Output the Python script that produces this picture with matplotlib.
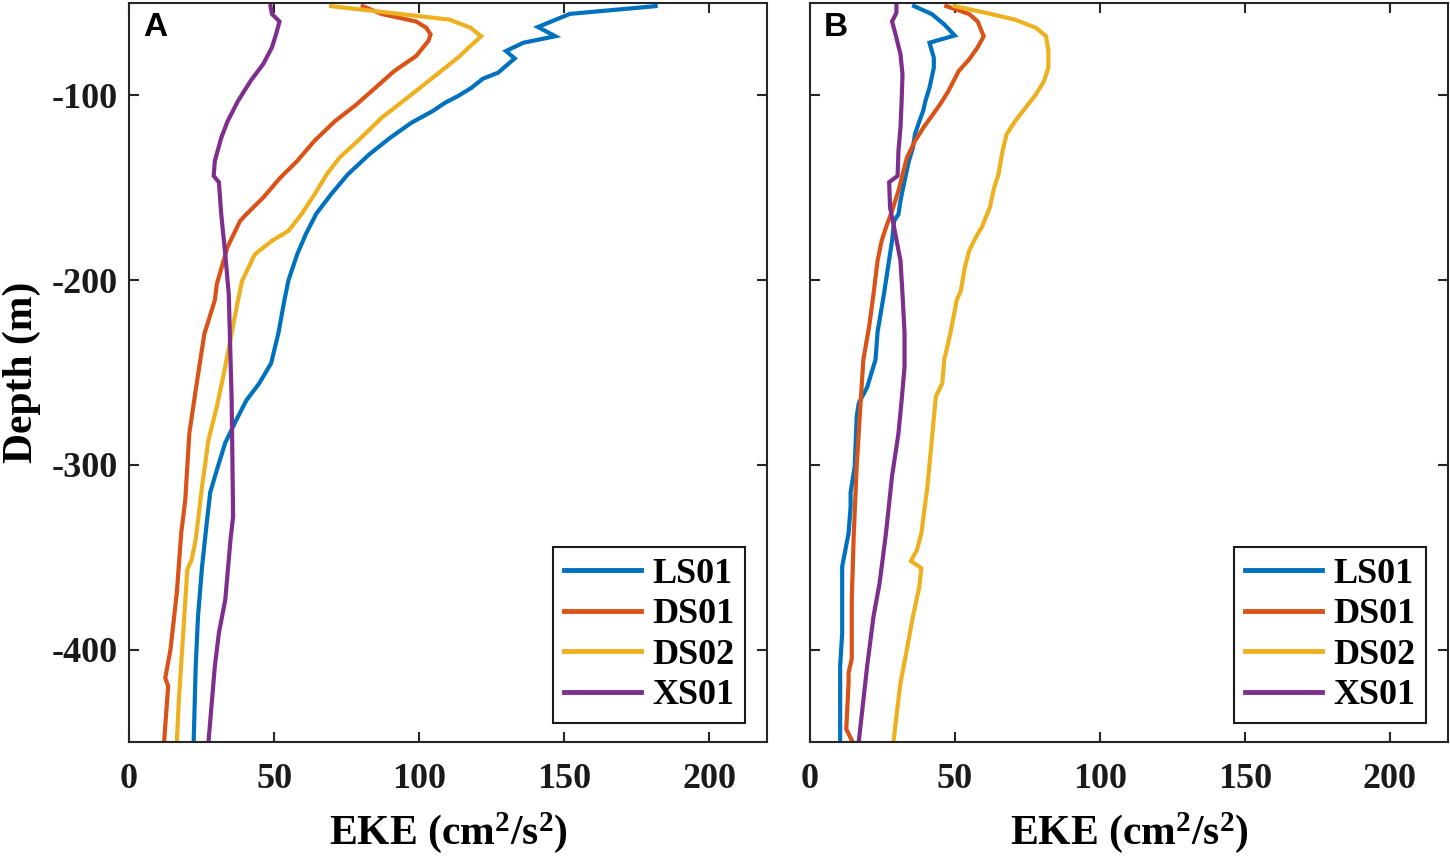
import matplotlib
matplotlib.use('Agg')
import matplotlib.pyplot as plt

# station names and MATLAB default line colours
stations = ['LS01', 'DS01', 'DS02', 'XS01']
colors = ['#0072BD', '#D95319', '#EDB120', '#7E2F8E']

# panel A profiles (EKE, depth)
a_ls01_eke = [181.6, 152, 141, 147, 136, 130, 133, 127.3, 122, 118, 113.4, 109, 104.7, 97.4, 90,
              82.8, 75.5, 69.7, 64.6, 61, 58, 55, 53.6, 51.5, 49, 44.9, 40.5, 37, 33.2, 30.3, 28,
              26.7, 25.2, 23.8, 23, 22.3]
a_ls01_dep = [-51.7, -55.9, -63, -68, -71.5, -76, -80, -87.7, -91, -96, -100.4, -104, -108.5, -114.8,
              -123, -132, -142.7, -153.5, -164, -175, -186, -200, -210.8, -228.8, -245, -255.9, -265,
              -275.7, -288, -302.7, -315, -333, -355, -382, -409, -450]
a_ds01_eke = [80.6, 87.2, 99, 102.5, 104, 103.2, 99, 91.5, 84.3, 78.4, 71, 63.9, 58, 52.2, 46.3, 40.5,
              38.3, 34, 30.3, 29.6, 26, 23, 20.8, 19.4, 18, 16.5, 14.3, 12.5, 13.5, 12.1]
a_ds01_dep = [-51.7, -56, -60, -63.4, -67, -70.6, -78.7, -86.8, -96.8, -105, -114, -124.7, -135.5,
              -144.5, -155.3, -164.3, -168, -182, -202, -210.8, -229, -259.5, -283, -319, -337, -369,
              -400, -415.3, -419.8, -450]
a_ds02_eke = [69.7, 110.5, 117.8, 121.4, 113.4, 104.7, 96, 87.2, 80, 72.6, 68.2, 64, 59.5, 55, 49.3,
              43.4, 39, 37.6, 33.2, 30.3, 27.4, 25.2, 23, 21.6, 20.1, 18.7, 17.2, 16.5]
a_ds02_dep = [-51.7, -59, -63.4, -68, -79.6, -90.5, -101.3, -112, -123, -133.7, -142.7, -153.5, -164.3,
              -173.3, -178.7, -186, -200.4, -210.8, -246.8, -268.5, -286.5, -311.7, -340.5, -351.4,
              -356.8, -391, -427, -450]
a_xs01_eke = [48.8, 49.3, 51.9, 50.7, 49.3, 46.3, 42, 37.6, 34, 31.8, 29.6, 29.2, 31, 31.8, 33.2, 34.4,
              35.4, 35.9, 35, 33.2, 31, 29.6, 27.4]
a_xs01_dep = [-51.7, -56, -60, -67, -74, -83, -92, -103, -114, -123, -135.5, -143.6, -147, -164.3,
              -186, -207.6, -265, -328, -340.5, -373, -391, -409, -450]

# panel B profiles (EKE, depth)
b_ls01_eke = [35.9, 42, 46.3, 49.9, 41.2, 42.7, 42.7, 41.2, 39.8, 39, 37.7, 36.2, 35.5, 34.1, 32.6,
              31.2, 30.5, 29, 28.3, 26.9, 25.5, 23.3, 22.6, 19.7, 16.8, 16.1, 15.4, 14, 14, 13.3,
              11.1, 11.1, 10.4, 10.4]
b_ls01_dep = [-51.7, -56, -61.6, -67.6, -71.5, -79.6, -85, -95.9, -103, -108.5, -114, -121, -128.3,
              -135.5, -146.3, -157, -164.3, -168, -178.7, -193, -207.6, -228, -243, -258, -266.7,
              -274, -301, -315, -322.5, -337, -355, -391, -409, -450]
b_ds01_eke = [47, 54.9, 57.8, 59.9, 57.8, 54.9, 51.3, 47.7, 44.8, 39.1, 36.2, 33.4, 30.5, 28.3, 26.2,
              24.7, 23.3, 21.9, 20.4, 18.4, 17.3, 16.1, 15.1, 14.4, 14.4, 13.3, 13.3, 12.5, 14.7]
b_ds01_dep = [-51.7, -56, -60, -68, -74, -80.5, -86.8, -97.7, -105, -117.5, -124.7, -133.7, -151.7,
              -162.5, -171.5, -178.7, -189.5, -207.6, -225, -243, -270, -301, -337, -373, -405,
              -412.5, -418, -443, -450]
b_ds02_eke = [49.9, 60.6, 70.7, 77.9, 81.4, 82.2, 82.2, 80.7, 77.9, 74.3, 70.7, 67.8, 66.4, 65, 63.5,
              62, 59.2, 57.8, 54.9, 53.4, 52, 50.6, 48.4, 46.3, 45.6, 43.4, 42, 40.5, 38.4, 36.9,
              34.8, 38.4, 37.7, 35.5, 33.4, 31.2, 29.8, 28.8]
b_ds02_dep = [-51.7, -55.3, -59, -63.4, -68, -76, -85, -92.3, -99.5, -106.7, -114, -121, -130, -142.7,
              -150, -160.7, -171.5, -175, -184, -193, -205.8, -210.8, -228.8, -243, -256, -263,
              -286.5, -311.7, -337, -346, -352, -355.9, -366, -382, -400, -418, -436, -450]
b_xs01_eke = [29.8, 29.8, 28.3, 29.8, 31.2, 31.9, 31.6, 31.2, 30.5, 30.2, 27.3, 27.6, 29, 31.2, 31.9,
              32.6, 32.6, 31.6, 30.5, 28.3, 26.2, 24, 21.9, 19.7, 16.8]
b_xs01_dep = [-51.7, -55.3, -60, -68.8, -77.8, -88.6, -103, -117.5, -130, -143.6, -147, -160.7,
              -171.5, -189.5, -207.6, -228.8, -247, -265, -283, -306, -337, -364, -382, -409, -450]

xticks = [0, 50, 100, 150, 200]
yticks = [-400, -300, -200, -100]

plt.rcParams['font.family'] = ['Liberation Serif', 'DejaVu Serif']
plt.rcParams['font.weight'] = 'bold'
plt.rcParams['axes.unicode_minus'] = False
plt.rcParams['mathtext.fontset'] = 'custom'
plt.rcParams['mathtext.rm'] = 'Liberation Serif:bold'
plt.rcParams['mathtext.bf'] = 'Liberation Serif:bold'
plt.rcParams['mathtext.default'] = 'rm'

fig = plt.figure(figsize=(14.5, 8.64), dpi=100)
ax_a = fig.add_axes([129 / 1450, 1 - 742 / 864, 638 / 1450, 739 / 864])
ax_b = fig.add_axes([810 / 1450, 1 - 742 / 864, 638 / 1450, 739 / 864])

panels = [
    (ax_a, 'A', [(a_ls01_eke, a_ls01_dep), (a_ds01_eke, a_ds01_dep),
                 (a_ds02_eke, a_ds02_dep), (a_xs01_eke, a_xs01_dep)]),
    (ax_b, 'B', [(b_ls01_eke, b_ls01_dep), (b_ds01_eke, b_ds01_dep),
                 (b_ds02_eke, b_ds02_dep), (b_xs01_eke, b_xs01_dep)]),
]

axis_color = '#262626'
for ax, tag, profiles in panels:
    for (eke, dep), name, col in zip(profiles, stations, colors):
        ax.plot(eke, dep, color=col, lw=3, label=name, solid_joinstyle='miter')
    ax.set_xlim(0, 220)
    ax.set_ylim(-450, -50)
    ax.set_xticks(xticks)
    ax.set_yticks(yticks)
    ax.tick_params(direction='in', top=True, right=True, length=7, width=1.5,
                   labelsize=26, colors=axis_color, labelcolor='#1a1a1a')
    ax.tick_params(axis='x', pad=15)
    ax.tick_params(axis='y', pad=8)
    for lab in ax.get_xticklabels() + ax.get_yticklabels():
        lab.set_fontweight('bold')
    for sp in ax.spines.values():
        sp.set_linewidth(1.5)
        sp.set_color(axis_color)
    ax.set_xlabel('EKE (cm$^{2}$/s$^{2}$)', fontsize=30, fontweight='bold', labelpad=10)
    ax.text(0.022, 0.988, tag, transform=ax.transAxes, ha='left', va='top',
            fontsize=24, fontweight='bold', family=['Liberation Sans', 'DejaVu Sans'])
    leg = ax.legend(loc='lower right', bbox_to_anchor=(0.9655, 0.0257), borderaxespad=0,
                    fontsize=26, handlelength=2.15, handletextpad=0.3, borderpad=0.3,
                    labelspacing=0.2, fancybox=False, framealpha=1)
    leg.get_frame().set_edgecolor('#1a1a1a')
    leg.get_frame().set_linewidth(1.5)
    for line in leg.get_lines():
        line.set_linewidth(3.5)

ax_b.set_yticklabels([])
ax_a.set_ylabel('Depth (m)', fontsize=30, fontweight='bold', labelpad=8)

fig.savefig('out.png', dpi=100, facecolor='white')
